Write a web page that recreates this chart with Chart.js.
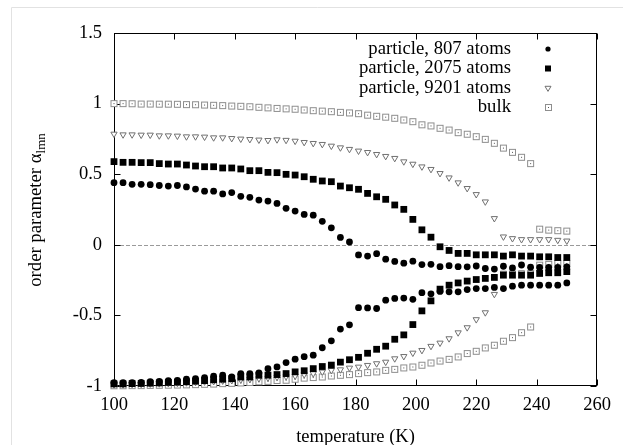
<!DOCTYPE html>
<html>
<head>
<meta charset="utf-8">
<script src="https://cdn.jsdelivr.net/npm/chart.js@4.4.0/dist/chart.umd.min.js"></script>
<style>
  html, body { margin: 0; padding: 0; background: #fff; overflow: hidden; }
  canvas { display: block; }
</style>
</head>
<body>
<canvas id="orderChart" width="623" height="445"></canvas>
<script>
// temperatures (K), one per simulation point
const temps = [100,103,106,109,112,115,118,121,124,127,
  130,133,136,139,142,145,148,151,154,157,
  160,163,166,169,172,175,178,181,184,187,
  190,193,196,199,202,205,208,211,214,217,
  220,223,226,229,232,235,238,241,244,247,
  250];

// order parameter, upper and lower branch of each system
const p807Up = [0.440,0.440,0.428,0.428,0.426,0.420,0.416,0.420,0.410,0.395,
  0.380,0.380,0.360,0.370,0.343,0.336,0.317,0.310,0.293,0.258,
  0.239,0.215,0.210,0.166,0.120,0.052,0.020,-0.072,-0.080,-0.063,
  -0.102,-0.118,-0.130,-0.116,-0.140,-0.138,-0.155,-0.148,-0.155,-0.156,
  -0.150,-0.168,-0.172,-0.152,-0.164,-0.143,-0.159,-0.160,-0.160,-0.160,
  -0.156];
const p807Lo = [-0.976,-0.976,-0.976,-0.975,-0.969,-0.967,-0.962,-0.960,-0.952,-0.948,
  -0.940,-0.931,-0.924,-0.936,-0.912,-0.912,-0.908,-0.877,-0.865,-0.834,
  -0.810,-0.792,-0.782,-0.729,-0.680,-0.597,-0.567,-0.445,-0.447,-0.451,
  -0.392,-0.380,-0.377,-0.386,-0.339,-0.347,-0.330,-0.333,-0.333,-0.317,
  -0.310,-0.310,-0.302,-0.310,-0.293,-0.286,-0.286,-0.286,-0.286,-0.286,
  -0.270];
const p2075Up = [0.589,0.584,0.584,0.582,0.582,0.575,0.572,0.572,0.565,0.558,
  0.553,0.553,0.544,0.544,0.537,0.525,0.525,0.513,0.511,0.499,
  0.494,0.482,0.464,0.452,0.447,0.416,0.404,0.393,0.364,0.340,
  0.322,0.282,0.251,0.180,0.106,0.054,-0.014,-0.040,-0.061,-0.061,
  -0.071,-0.071,-0.071,-0.080,-0.071,-0.080,-0.080,-0.085,-0.085,-0.090,
  -0.090];
const p2075Lo = [-0.985,-0.985,-0.983,-0.982,-0.980,-0.978,-0.975,-0.973,-0.970,-0.966,
  -0.962,-0.956,-0.952,-0.948,-0.936,-0.936,-0.924,-0.923,-0.919,-0.912,
  -0.900,-0.892,-0.877,-0.862,-0.852,-0.831,-0.814,-0.797,-0.768,-0.740,
  -0.718,-0.669,-0.638,-0.565,-0.468,-0.397,-0.314,-0.286,-0.270,-0.257,
  -0.246,-0.238,-0.231,-0.215,-0.215,-0.215,-0.215,-0.203,-0.198,-0.198,
  -0.190];
const p9201Up = [0.785,0.780,0.780,0.778,0.778,0.773,0.773,0.771,0.766,0.766,
  0.764,0.759,0.759,0.754,0.750,0.747,0.743,0.740,0.745,0.741,
  0.735,0.726,0.719,0.712,0.700,0.688,0.677,0.665,0.655,0.641,
  0.627,0.613,0.589,0.572,0.553,0.535,0.506,0.475,0.440,0.400,
  0.357,0.305,0.187,0.057,0.045,0.038,0.038,0.038,0.038,0.033,
  0.028];
const p9201Lo = [-0.990,-0.990,-0.988,-0.987,-0.985,-0.983,-0.981,-0.979,-0.976,-0.973,
  -0.970,-0.967,-0.963,-0.960,-0.956,-0.952,-0.947,-0.942,-0.937,-0.933,
  -0.929,-0.919,-0.912,-0.900,-0.889,-0.884,-0.872,-0.865,-0.853,-0.841,
  -0.830,-0.806,-0.790,-0.766,-0.747,-0.718,-0.695,-0.664,-0.622,-0.586,
  -0.529,-0.480,-0.350,-0.200,-0.198,-0.197,-0.196,-0.193,-0.190,-0.188,
  -0.186];
const bulkUp = [1.000,1.000,0.999,0.997,0.997,0.996,0.996,0.995,0.993,0.992,
  0.990,0.988,0.986,0.983,0.981,0.978,0.974,0.970,0.966,0.963,
  0.960,0.955,0.950,0.947,0.943,0.938,0.934,0.929,0.918,0.910,
  0.904,0.896,0.884,0.872,0.850,0.842,0.825,0.813,0.794,0.783,
  0.766,0.747,0.719,0.685,0.655,0.620,0.575,0.111,0.104,0.100,
  0.097];
const bulkLo = [-0.998,-0.998,-0.997,-0.997,-0.996,-0.995,-0.994,-0.993,-0.992,-0.990,
  -0.988,-0.986,-0.983,-0.981,-0.978,-0.975,-0.970,-0.967,-0.961,-0.959,
  -0.952,-0.944,-0.940,-0.936,-0.929,-0.924,-0.919,-0.912,-0.905,-0.900,
  -0.889,-0.882,-0.872,-0.865,-0.853,-0.837,-0.823,-0.811,-0.794,-0.770,
  -0.754,-0.730,-0.711,-0.683,-0.657,-0.622,-0.582,-0.144,-0.139,-0.132,
  -0.132];

const seriesNames = ['particle, 807 atoms', 'particle, 2075 atoms', 'particle, 9201 atoms', 'bulk'];
const xTicks = [100, 120, 140, 160, 180, 200, 220, 240, 260];
const yTicks = [-1, -0.5, 0, 0.5, 1, 1.5];

const FONT = 'Liberation Serif, Times New Roman, serif';

// open square with a dot in the middle (gnuplot style)
const boxDot = document.createElement('canvas');
boxDot.width = 9; boxDot.height = 9;
(function () {
  const c = boxDot.getContext('2d');
  c.fillStyle = '#fff';
  c.fillRect(1, 1, 7, 7);
  c.strokeStyle = '#8e8e8e';
  c.lineWidth = 1;
  c.strokeRect(1.5, 1.5, 6, 6);
  c.fillStyle = '#555';
  c.fillRect(4, 4, 1, 1);
})();

function branches(up, lo) {
  return temps.map((t, i) => ({x: t, y: up[i]}))
    .concat(temps.map((t, i) => ({x: t, y: lo[i]})));
}

const datasets = [
  {label: seriesNames[0], data: branches(p807Up, p807Lo), pointStyle: 'circle', pointRadius: 3.4,
   backgroundColor: '#000', borderColor: '#000', borderWidth: 0},
  {label: seriesNames[1], data: branches(p2075Up, p2075Lo), pointStyle: 'rect', pointRadius: 4.8,
   backgroundColor: '#000', borderColor: '#000', borderWidth: 0},
  {label: seriesNames[2], data: branches(p9201Up, p9201Lo), pointStyle: 'triangle', pointRadius: 3.6,
   rotation: 180, backgroundColor: '#fff', borderColor: '#707070', borderWidth: 1},
  {label: seriesNames[3], data: branches(bulkUp, bulkLo), pointStyle: boxDot, pointRadius: 4.5,
   backgroundColor: '#fff', borderColor: '#8e8e8e', borderWidth: 1}
].map(d => Object.assign({showLine: false, clip: false, pointHoverRadius: d.pointRadius}, d));

// legend marker, same look as the data points
function legendMark(ctx, i, x, y) {
  ctx.save();
  if (i === 0) {
    ctx.fillStyle = '#000';
    ctx.beginPath(); ctx.arc(x, y, 2.6, 0, Math.PI * 2); ctx.fill();
  } else if (i === 1) {
    ctx.fillStyle = '#000';
    ctx.fillRect(x - 3, y - 3, 6, 6);
  } else if (i === 2) {
    ctx.strokeStyle = '#707070'; ctx.fillStyle = '#fff'; ctx.lineWidth = 1;
    ctx.beginPath();
    ctx.moveTo(x - 3, y - 1.7); ctx.lineTo(x + 3, y - 1.7); ctx.lineTo(x, y + 3.4); ctx.closePath();
    ctx.fill(); ctx.stroke();
  } else {
    ctx.drawImage(boxDot, Math.round(x) - 4, Math.round(y) - 4);
  }
  ctx.restore();
}

const gnuplotFrame = {
  id: 'gnuplotFrame',
  beforeDraw(chart) {
    // faint page frame, left and top edges only
    const ctx = chart.ctx;
    ctx.save();
    ctx.strokeStyle = '#e2e2e2';
    ctx.lineWidth = 1;
    ctx.beginPath();
    ctx.moveTo(11.5, chart.height); ctx.lineTo(11.5, 7.5); ctx.lineTo(chart.width, 7.5);
    ctx.stroke();
    ctx.restore();
  },
  beforeDatasetsDraw(chart) {
    const {ctx, chartArea: a, scales: {x, y}} = chart;
    ctx.save();
    // dotted zero line
    ctx.strokeStyle = '#9a9a9a';
    ctx.lineWidth = 1;
    ctx.setLineDash([4, 2]);
    const y0 = Math.round(y.getPixelForValue(0)) + 0.5;
    ctx.beginPath(); ctx.moveTo(a.left, y0); ctx.lineTo(a.right, y0); ctx.stroke();
    ctx.setLineDash([]);
    // border box and inward ticks on all sides
    ctx.strokeStyle = '#000';
    const L = Math.round(a.left) + 0.5, R = Math.round(a.right) - 0.5;
    const T = Math.round(a.top) + 0.5, B = Math.round(a.bottom) - 0.5;
    ctx.strokeRect(L, T, R - L, B - T);
    ctx.beginPath();
    xTicks.forEach(v => {
      const px = Math.round(x.getPixelForValue(v)) + 0.5;
      ctx.moveTo(px, B); ctx.lineTo(px, B - 6);
      ctx.moveTo(px, T); ctx.lineTo(px, T + 6);
    });
    yTicks.forEach(v => {
      const py = Math.round(y.getPixelForValue(v)) + 0.5;
      ctx.moveTo(L, py); ctx.lineTo(L + 6, py);
      ctx.moveTo(R, py); ctx.lineTo(R - 6, py);
    });
    ctx.stroke();
    ctx.restore();
  },
  afterDraw(chart) {
    const ctx = chart.ctx;
    ctx.save();
    // legend, text right aligned, marker at the right
    ctx.font = '18.7px ' + FONT;
    ctx.fillStyle = '#000';
    ctx.textAlign = 'right';
    ctx.textBaseline = 'middle';
    const rows = [49, 68.5, 88, 107];
    seriesNames.forEach((name, i) => {
      ctx.fillText(name, 511, rows[i]);
      legendMark(ctx, i, 548, rows[i]);
    });
    // y axis title with subscript
    ctx.translate(41, 210);
    ctx.rotate(-Math.PI / 2);
    ctx.textAlign = 'left';
    ctx.textBaseline = 'alphabetic';
    const main = 'order parameter α', sub = 'lmn';
    ctx.font = '18.7px ' + FONT;
    const w1 = ctx.measureText(main).width;
    ctx.font = '13px ' + FONT;
    const w2 = ctx.measureText(sub).width;
    const x0 = -(w1 + w2) / 2;
    ctx.font = '18.7px ' + FONT;
    ctx.fillText(main, x0, 0);
    ctx.font = '13px ' + FONT;
    ctx.fillText(sub, x0 + w1, 4);
    ctx.restore();
  }
};

new Chart(document.getElementById('orderChart'), {
  type: 'scatter',
  data: {datasets},
  plugins: [gnuplotFrame],
  options: {
    responsive: false,
    animation: false,
    layout: {padding: {left: 0, right: 26, top: 33, bottom: 0}},
    plugins: {legend: {display: false}, tooltip: {enabled: false}},
    scales: {
      x: {
        type: 'linear', min: 100, max: 260,
        afterBuildTicks: s => { s.ticks = xTicks.map(v => ({value: v})); },
        afterFit: s => { s.height = 59; },
        grid: {display: false, drawTicks: false},
        border: {display: false},
        ticks: {color: '#000', font: {family: FONT, size: 18.5}, padding: 8, maxRotation: 0, callback: v => String(v)},
        title: {display: true, text: 'temperature (K)', color: '#000', font: {family: FONT, size: 18.5},
                padding: {top: 0, bottom: -3}}
      },
      y: {
        type: 'linear', min: -1, max: 1.5,
        afterBuildTicks: s => { s.ticks = yTicks.map(v => ({value: v})); },
        afterFit: s => { s.width = 114; },
        grid: {display: false, drawTicks: false},
        border: {display: false},
        ticks: {color: '#000', font: {family: FONT, size: 18.5}, padding: 12, callback: v => String(v)}
      }
    }
  }
});
</script>
</body>
</html>
